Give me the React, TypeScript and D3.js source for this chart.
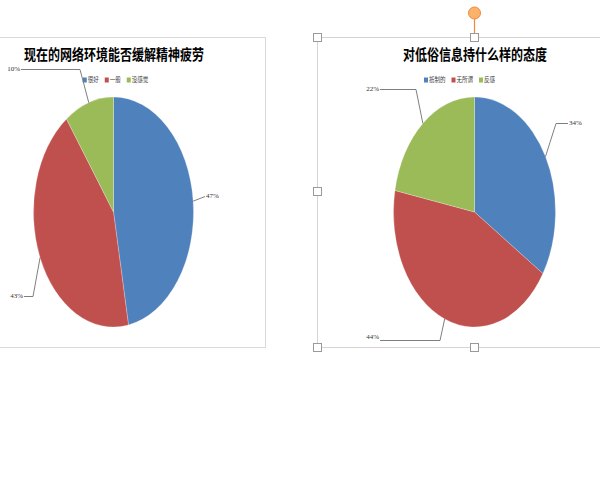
import React from "react";
import * as d3 from "d3";

const leftTitle = "现在的网络环境能否缓解精神疲劳";
const leftCategories = ["很好", "一般", "没感觉"];
const leftValues = [47, 43, 10];

const rightTitle = "对低俗信息持什么样的态度";
const rightCategories = ["抵制的", "无所谓", "反感"];
const rightValues = [34, 44, 22];

const colors = ["#4f81bd", "#c0504d", "#9bbb59"];

type LabelLayout = { text: [number, number]; path: [number, number][]; anchor: "start" | "end" };

const PieChart = ({
  title, categories, values, cx, cy, rx, ry, titleX, legendX, labels,
}: {
  title: string; categories: string[]; values: number[]; cx: number; cy: number; rx: number; ry: number;
  titleX: number; legendX: number; labels: LabelLayout[];
}) => {
  const R = 100;
  const pie = d3.pie<number>().sort(null).value((d) => d);
  const arcs = pie(values);
  const arc = d3.arc<d3.PieArcDatum<number>>().innerRadius(0).outerRadius(R);
  const total = d3.sum(values);
  const charW = 5.5;
  const itemWidths = categories.map((c, i) => 5 + c.length * charW + (i < categories.length - 1 ? 6 : 0));
  const legendW = d3.sum(itemWidths);
  let lx = legendX - legendW / 2;
  return (
    <g>
      <text
        transform={`translate(${titleX},60) scale(1,1.25)`}
        textAnchor="middle"
        fontFamily="'Noto Sans CJK SC', sans-serif"
        fontWeight="bold"
        fontSize={12}
        fill="#000"
      >
        {title}
      </text>
      <g>
        {categories.map((c, i) => {
          const x = lx;
          lx += itemWidths[i];
          return (
            <g key={c} transform={`translate(${x},80)`}>
              <rect x={0} y={-2.5} width={4} height={5} fill={colors[i]} />
              <text
                x={5}
                y={0}
                transform="scale(1,1.2)"
                dominantBaseline="middle"
                fontFamily="'Noto Sans CJK SC', sans-serif"
                fontSize={5.5}
                fill="#404040"
              >
                {c}
              </text>
            </g>
          );
        })}
      </g>
      <g transform={`translate(${cx},${cy}) scale(${rx / R},${ry / R})`}>
        {arcs.map((a, i) => (
          <path key={i} d={arc(a) || ""} fill={colors[i]} stroke="#ffffff" strokeOpacity={0.4} strokeWidth={0.6} vectorEffect="non-scaling-stroke" />
        ))}
      </g>
      {arcs.map((a, i) => {
        const mid = (a.startAngle + a.endAngle) / 2;
        const ax = cx + Math.sin(mid) * rx;
        const ay = cy - Math.cos(mid) * ry;
        const L = labels[i];
        const pts: [number, number][] = [[ax, ay], ...L.path];
        const line = d3.line()(pts) || "";
        return (
          <g key={"l" + i}>
            <path d={line} fill="none" stroke="#7f7f7f" strokeWidth={1} />
            <text
              x={L.text[0]}
              y={L.text[1]}
              textAnchor={L.anchor}
              dominantBaseline="middle"
              fontFamily="'Liberation Serif', serif"
              fontSize={7}
              fill="#333333"
            >
              {`${Math.round((values[i] / total) * 100)}%`}
            </text>
          </g>
        );
      })}
    </g>
  );
};

const Handle = ({ x, y }: { x: number; y: number }) => (
  <rect x={x - 4} y={y - 4} width={8} height={8} fill="#ffffff" stroke="#9a9a9a" strokeWidth={1} />
);

export default function App() {
  return (
    <div style={{ position: "absolute", left: 0, top: 0, width: 600, height: 479, background: "#fff" }}>
      <svg width={600} height={479} style={{ display: "block" }}>
        <rect x={0} y={0} width={600} height={479} fill="#ffffff" />
        <rect x={-2} y={37.5} width={267.5} height={310} fill="#ffffff" stroke="#d9d9d9" strokeWidth={1} />
        <rect x={317.5} y={37.5} width={300} height={310} fill="#ffffff" stroke="#d4d4d4" strokeWidth={1} />
        <PieChart
          title={leftTitle}
          categories={leftCategories}
          values={leftValues}
          cx={113.5}
          cy={212}
          rx={80}
          ry={115}
          titleX={114}
          legendX={115.5}
          labels={[
            { text: [206, 196.5], path: [[205, 196.5]], anchor: "start" },
            { text: [23, 296], path: [[33, 296.5], [24, 296.5]], anchor: "end" },
            { text: [20, 69.5], path: [[80, 69.5], [21, 69.5]], anchor: "end" },
          ]}
        />
        <PieChart
          title={rightTitle}
          categories={rightCategories}
          values={rightValues}
          cx={474.5}
          cy={212}
          rx={81}
          ry={115}
          titleX={475}
          legendX={459.5}
          labels={[
            { text: [569, 123.5], path: [[556, 123.5], [568, 123.5]], anchor: "start" },
            { text: [379, 337], path: [[440, 340.5], [380, 340.5]], anchor: "end" },
            { text: [379, 89.5], path: [[416, 89.5], [380, 89.5]], anchor: "end" },
          ]}
        />
        <line x1={474.5} y1={19} x2={474.5} y2={33} stroke="#f0883c" strokeWidth={1.2} />
        <circle cx={474.5} cy={13} r={6} fill="#fbb36b" stroke="#f0883c" strokeWidth={1} />
        <Handle x={317.5} y={37.5} />
        <Handle x={474.5} y={37.5} />
        <Handle x={317.5} y={191.5} />
        <Handle x={317.5} y={347.5} />
        <Handle x={474.5} y={347.5} />
      </svg>
    </div>
  );
}
